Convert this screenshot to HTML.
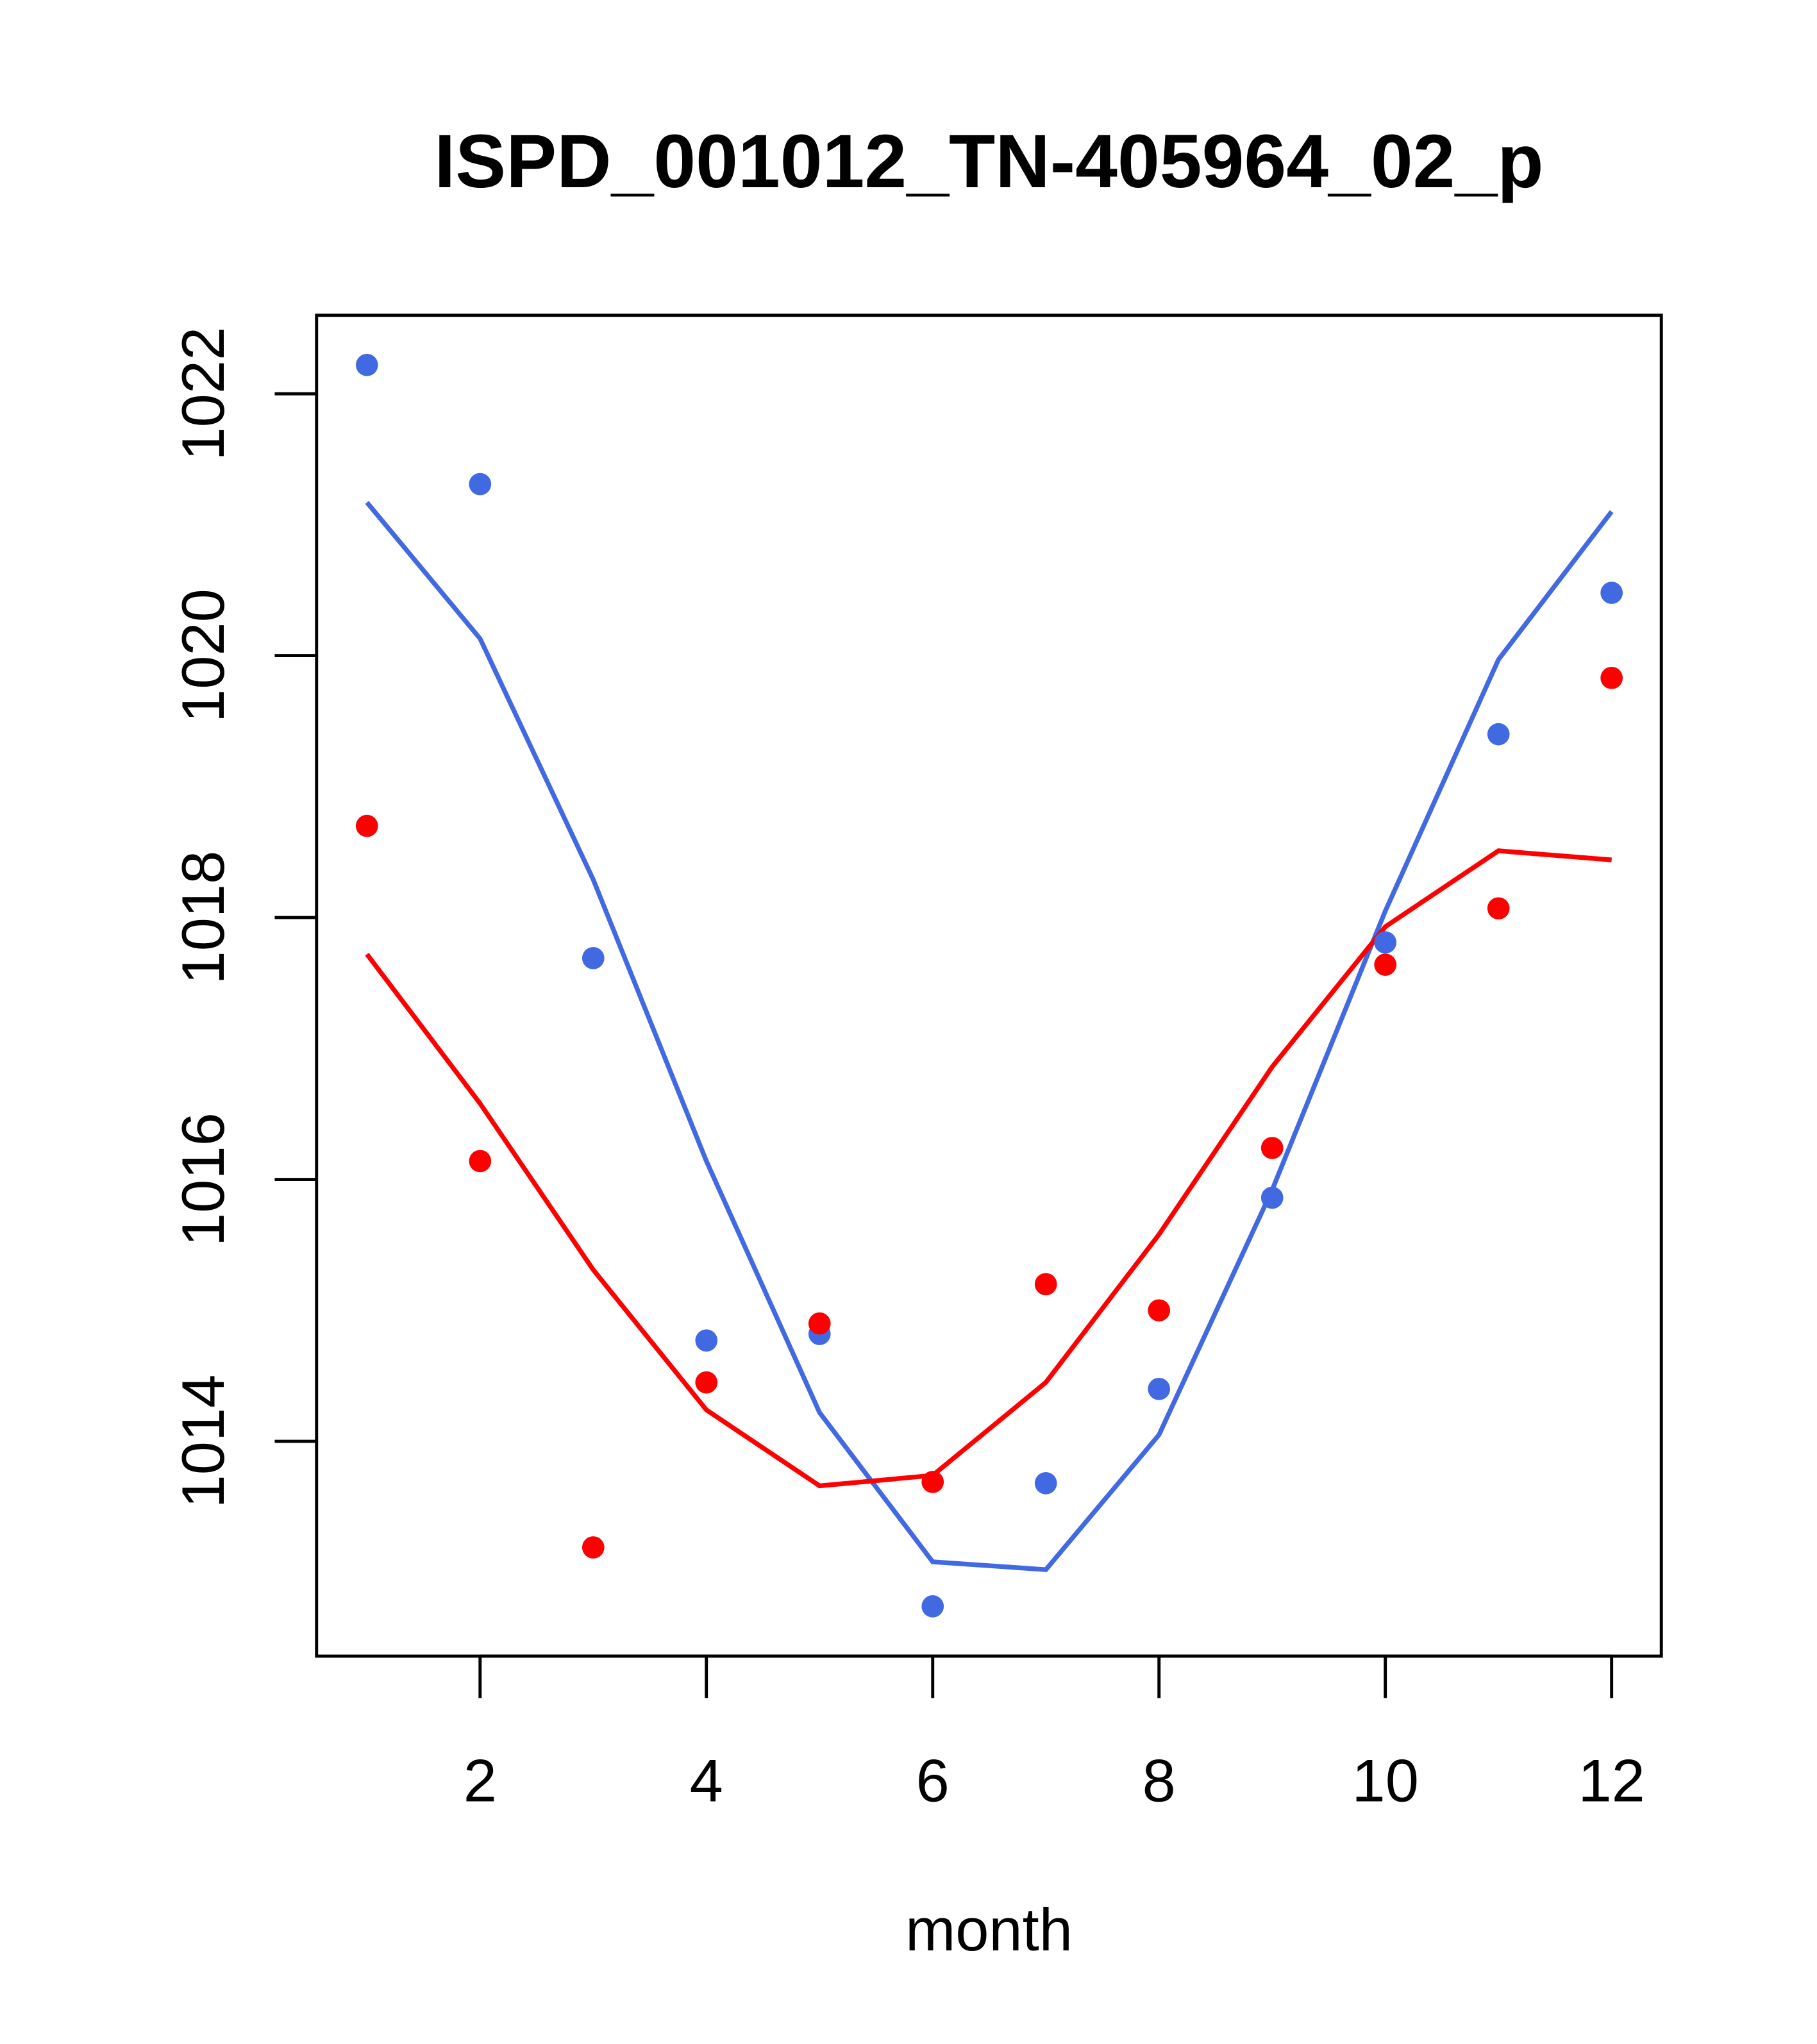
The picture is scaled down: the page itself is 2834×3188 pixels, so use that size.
<!DOCTYPE html>
<html><head><meta charset="utf-8"><style>html,body{margin:0;padding:0;background:#fff}svg{display:block}</style></head>
<body>
<svg id="chart" width="2834" height="3188" viewBox="0 0 1389 1562.5" xmlns="http://www.w3.org/2000/svg" font-family="Liberation Sans, Arial, sans-serif">
<rect width="1389" height="1562.5" fill="#fff"/>
<text x="756" y="143" font-size="58" font-weight="bold" text-anchor="middle">ISPD_001012_TN-405964_02_p</text>
<rect x="242" y="241" width="1028" height="1025" fill="none" stroke="#000" stroke-width="2.4"/>
<text x="756" y="1491" font-size="46" text-anchor="middle">month</text>
<g id="axes"></g>
<g id="marks"></g>
</svg>
<script>
const months=[1,2,3,4,5,6,7,8,9,10,11,12];
const bluePoints=[1022.22,1021.31,1017.69,1014.77,1014.82,1012.74,1013.68,1014.40,1015.86,1017.81,1019.40,1020.48];
const redPoints=[1018.70,1016.14,1013.19,1014.45,1014.90,1013.69,1015.20,1015.00,1016.24,1017.64,1018.07,1019.83];
const blueLine=[1021.17,1020.13,1018.29,1016.14,1014.22,1013.08,1013.02,1014.05,1015.92,1018.05,1019.97,1021.10];
const redLine=[1017.72,1016.58,1015.31,1014.24,1013.66,1013.74,1014.45,1015.58,1016.86,1017.93,1018.51,1018.44];
const xTicks=[2,4,6,8,10,12];
const yTicks=[1014,1016,1018,1020,1022];

const NS='http://www.w3.org/2000/svg';
const xs=m=>280.5+(m-1)*86.5;
const ys=v=>301+(1022-v)*100.1;
function mk(tag,attrs,parent){const e=document.createElementNS(NS,tag);for(const k in attrs)e.setAttribute(k,attrs[k]);parent.appendChild(e);return e;}
const axes=document.getElementById('axes'),marks=document.getElementById('marks');

xTicks.forEach(t=>{
  const l=mk('line',{x1:xs(t),x2:xs(t),y1:1266,y2:1298,stroke:'#000','stroke-width':2.4},axes);
  
  
  const tx=mk('text',{x:xs(t),y:1377,'font-size':46,'text-anchor':'middle'},axes);
  tx.textContent=t;
  
  
});
mk('line',{x1:xs(2),x2:xs(12),y1:1266,y2:1266,stroke:'#000','stroke-width':2.4},axes);
yTicks.forEach(t=>{
  const l=mk('line',{x1:242,x2:210,y1:ys(t),y2:ys(t),stroke:'#000','stroke-width':2.4},axes);
  
  
  const tx=mk('text',{x:0,y:0,'font-size':46,'text-anchor':'middle',transform:`translate(171,${ys(t)}) rotate(-90)`},axes);
  tx.textContent=t;
  
  
});

function line(vals,color,name){
  const p=mk('polyline',{points:vals.map((v,i)=>xs(months[i])+','+ys(v)).join(' '),fill:'none',stroke:color,'stroke-width':3.6},marks);
  
  
}
function pts(vals,color,name){
  vals.forEach((v,i)=>{
    const c=mk('circle',{cx:xs(months[i]),cy:ys(v),r:8.5,fill:color},marks);
    
    
  });
}
line(blueLine,'#4169e1','blue-line');
line(redLine,'#ff0000','red-line');
pts(bluePoints,'#4169e1','blue-point');
pts(redPoints,'#ff0000','red-point');
</script>
</body></html>
